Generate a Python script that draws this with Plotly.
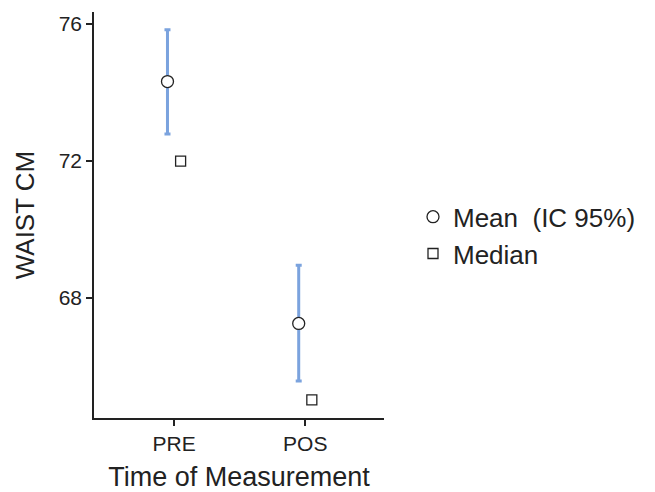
import plotly.graph_objects as go

# Data
categories = ["PRE", "POS"]
mean_vals = [74.32, 67.26]
ci_lower = [72.79, 65.58]
ci_upper = [75.83, 68.96]
median_vals = [72.0, 65.03]
y_ticks = [68, 72, 76]

cat_pos = list(range(len(categories)))
offset = 0.05
x_mean = [p - offset for p in cat_pos]
x_median = [p + offset for p in cat_pos]

err_plus = [u - m for u, m in zip(ci_upper, mean_vals)]
err_minus = [m - l for m, l in zip(mean_vals, ci_lower)]

font_family = "Liberation Sans, Arial, sans-serif"
dark = "#222222"

fig = go.Figure()
fig.add_trace(go.Scatter(
    x=x_mean, y=mean_vals, mode="markers", name="Mean  (IC 95%)",
    marker=dict(symbol="circle", size=12, color="white",
                line=dict(color=dark, width=1.3)),
    error_y=dict(type="data", symmetric=False, array=err_plus,
                 arrayminus=err_minus, color="#7BA3DE", thickness=3, width=3),
))
fig.add_trace(go.Scatter(
    x=x_median, y=median_vals, mode="markers", name="Median",
    marker=dict(symbol="square", size=10, color="white",
                line=dict(color=dark, width=1.3)),
))

fig.update_layout(
    width=647, height=484,
    margin=dict(l=86, r=271, t=4, b=72),
    paper_bgcolor="white", plot_bgcolor="white",
    font=dict(family=font_family, color=dark),
    showlegend=True,
    legend=dict(x=1.1, xanchor="left", y=0.45, yanchor="middle",
                font=dict(size=26, color=dark), tracegroupgap=0,
                bgcolor="rgba(0,0,0,0)"),
    xaxis=dict(
        range=[-0.61, 1.6], tickvals=cat_pos, ticktext=categories,
        showgrid=False, zeroline=False, showline=True, linecolor=dark,
        linewidth=1.5, ticks="outside", ticklen=6, tickcolor=dark,
        tickwidth=1.5, tickfont=dict(size=21),
        title=dict(text="Time of Measurement", font=dict(size=27), standoff=14),
    ),
    yaxis=dict(
        range=[64.5, 76.35], tickvals=y_ticks,
        showgrid=False, zeroline=False, showline=True, linecolor=dark,
        linewidth=1.5, ticks="outside", ticklen=6, tickcolor=dark,
        tickwidth=1.5, tickfont=dict(size=21),
        title=dict(text="WAIST CM", font=dict(size=26), standoff=17),
    ),
)

fig.write_html("out.html")
